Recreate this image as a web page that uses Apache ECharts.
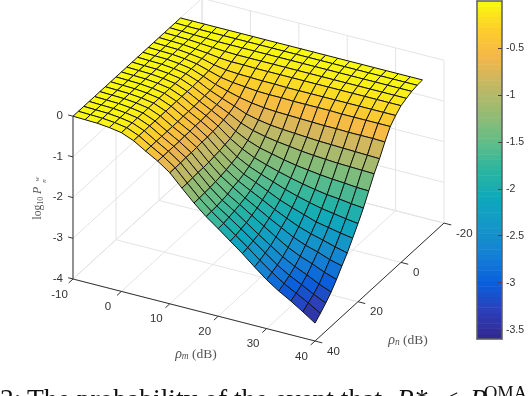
<!DOCTYPE html>
<html><head><meta charset="utf-8">
<style>html,body{margin:0;padding:0;background:#fff}#c{width:528px;height:396px}</style>
<script src="https://cdn.jsdelivr.net/npm/echarts@6/dist/echarts.min.js"></script>
</head><body><div id="c"></div>
<script>
const rhoM=[-10,-7.5,-5,-2.5,0,2.5,5,7.5,10,12.5,15,17.5,20,22.5,25,27.5,30,32.5,35,37.5,40];
const rhoN=[-10,-7.5,-5,-2.5,0,2.5,5,7.5,10,12.5,15,17.5,20,22.5,25,27.5,30,32.5,35,37.5,40];
// log10 P, one row per rhoN, one column per rhoM
const zRows=[
[0,0,0,0,0,0,0,0,0,0,0,0,0,0,0,0,0,0,0,0,0],
[0,-.01,-.01,-.01,-.01,-.01,-.01,-.01,-.01,-.01,-.01,-.01,-.01,-.01,-.01,-.01,-.01,-.01,-.01,-.01,-.01],
[0,-.01,-.02,-.03,-.04,-.04,-.04,-.04,-.04,-.04,-.04,-.04,-.04,-.04,-.04,-.04,-.04,-.04,-.04,-.04,-.04],
[0,-.01,-.02,-.04,-.06,-.08,-.09,-.09,-.09,-.09,-.09,-.09,-.09,-.09,-.09,-.09,-.09,-.09,-.09,-.09,-.09],
[0,-.01,-.02,-.05,-.08,-.12,-.14,-.14,-.15,-.15,-.15,-.15,-.15,-.15,-.15,-.15,-.15,-.15,-.15,-.15,-.15],
[0,-.01,-.02,-.05,-.09,-.17,-.22,-.24,-.25,-.26,-.26,-.27,-.27,-.27,-.27,-.27,-.27,-.27,-.27,-.27,-.27],
[0,-.01,-.02,-.05,-.10,-.19,-.28,-.33,-.36,-.39,-.40,-.40,-.41,-.41,-.41,-.41,-.42,-.42,-.42,-.42,-.42],
[0,-.01,-.02,-.05,-.10,-.21,-.33,-.42,-.50,-.56,-.60,-.62,-.63,-.64,-.65,-.66,-.66,-.67,-.67,-.67,-.68],
[0,-.01,-.02,-.05,-.10,-.21,-.36,-.48,-.59,-.71,-.78,-.83,-.86,-.88,-.90,-.92,-.93,-.94,-.95,-.96,-.97],
[0,-.01,-.02,-.05,-.10,-.22,-.37,-.51,-.65,-.81,-.92,-.99,-1.04,-1.08,-1.12,-1.15,-1.17,-1.19,-1.20,-1.21,-1.22],
[0,-.01,-.02,-.05,-.10,-.22,-.38,-.53,-.69,-.89,-1.04,-1.15,-1.22,-1.29,-1.35,-1.39,-1.43,-1.46,-1.48,-1.51,-1.52],
[0,-.01,-.02,-.05,-.10,-.22,-.39,-.54,-.72,-.95,-1.13,-1.27,-1.37,-1.46,-1.54,-1.61,-1.67,-1.72,-1.75,-1.79,-1.82],
[0,-.01,-.02,-.05,-.10,-.22,-.39,-.55,-.73,-.98,-1.20,-1.36,-1.48,-1.59,-1.70,-1.79,-1.87,-1.94,-1.99,-2.04,-2.08],
[0,-.01,-.02,-.05,-.10,-.22,-.39,-.55,-.75,-1.01,-1.24,-1.43,-1.56,-1.70,-1.84,-1.95,-2.05,-2.15,-2.21,-2.27,-2.32],
[0,-.01,-.02,-.05,-.10,-.22,-.40,-.56,-.75,-1.03,-1.28,-1.48,-1.64,-1.79,-1.95,-2.09,-2.22,-2.32,-2.40,-2.49,-2.56],
[0,-.01,-.02,-.05,-.10,-.22,-.40,-.56,-.76,-1.05,-1.31,-1.51,-1.70,-1.87,-2.04,-2.20,-2.36,-2.48,-2.57,-2.68,-2.76],
[0,-.01,-.02,-.05,-.10,-.22,-.40,-.57,-.77,-1.06,-1.33,-1.56,-1.74,-1.93,-2.12,-2.31,-2.49,-2.63,-2.74,-2.87,-2.97],
[0,-.01,-.02,-.05,-.10,-.22,-.40,-.57,-.77,-1.06,-1.35,-1.59,-1.78,-1.99,-2.20,-2.40,-2.60,-2.76,-2.89,-3.04,-3.16],
[0,-.01,-.02,-.05,-.10,-.22,-.40,-.57,-.78,-1.07,-1.36,-1.61,-1.81,-2.02,-2.24,-2.46,-2.68,-2.86,-3.01,-3.17,-3.31],
[0,-.01,-.02,-.05,-.10,-.22,-.40,-.57,-.78,-1.08,-1.37,-1.62,-1.84,-2.06,-2.28,-2.52,-2.74,-2.94,-3.10,-3.26,-3.44],
[0,-.01,-.02,-.05,-.10,-.22,-.40,-.57,-.78,-1.08,-1.37,-1.63,-1.85,-2.08,-2.31,-2.56,-2.80,-3.00,-3.17,-3.36,-3.56]
];
const xTicks=[-10,0,10,20,30,40];
const yTicks=[-20,0,20,40];
const zTicks=[-4,-3,-2,-1,0];
const cbarTicks=[-3.5,-3,-2.5,-2,-1.5,-1,-0.5];
const cbarColors=['#33288f','#2c3fb8','#0a5fdc','#1580d4','#1597c8','#0fa8bc','#2bb5a0','#62bd88','#95bb72','#c2b865','#f4b64a','#fdce2c','#f9fb0e'];
const cMin=-3.6,cMax=0,cSteps=64;

// Oblique view of the 3-D box onto the drawing plane
const proj=(x,y,z)=>[73+4.84*(x+10)+2.15*(40-y),279+1.24*(x+10)-1.965*(40-y)-40.7*(z+4)];

const cells=[];
for(let j=0;j<rhoN.length-1;j++)for(let i=0;i<rhoM.length-1;i++){
  cells.push([i,j,(zRows[j][i]+zRows[j][i+1]+zRows[j+1][i]+zRows[j+1][i+1])/4]);
}
const grids=[];
zTicks.forEach(z=>{grids.push([-10,40,z,-10,-20,z]);grids.push([-10,-20,z,40,-20,z]);});
xTicks.forEach(x=>{grids.push([x,-20,-4,x,40,-4]);grids.push([x,-20,-4,x,-20,0]);});
yTicks.forEach(y=>{grids.push([-10,y,-4,40,y,-4]);grids.push([-10,y,-4,-10,y,0]);});
const axes=[[-10,40,-4,40,40,-4],[40,40,-4,40,-20,-4],[-10,40,-4,-10,40,0]];
xTicks.forEach(x=>axes.push([x,40,-4,x,42,-4]));
yTicks.forEach(y=>axes.push([40,y,-4,41.5,y,-4]));
zTicks.forEach(z=>axes.push([-10,40,z,-11,40,z]));

const seg=(data,color,w)=>({type:'custom',xAxisIndex:0,yAxisIndex:0,data,clip:false,silent:true,animation:false,
  renderItem:(p,api)=>{
    const a=api.coord(proj(api.value(0),api.value(1),api.value(2)));
    const b=api.coord(proj(api.value(3),api.value(4),api.value(5)));
    return {type:'line',shape:{x1:a[0],y1:a[1],x2:b[0],y2:b[1]},style:{stroke:color,lineWidth:w}};
  }});
const labelFont='11.5px "Liberation Sans"';
const labels=(data,dx,dy,align)=>({type:'custom',xAxisIndex:0,yAxisIndex:0,data,clip:false,silent:true,animation:false,
  renderItem:(p,api)=>{
    const a=api.coord(proj(api.value(0),api.value(1),api.value(2)));
    return {type:'text',style:{text:String(data[p.dataIndex][3]),x:a[0]+dx,y:a[1]+dy,align,verticalAlign:'middle',font:labelFont,fill:'#333'}};
  }});

const serif='"Liberation Serif"';
const tRich=(n,i,s)=>({
  n:{fontFamily:'Liberation Serif',fontSize:n,color:'#555'},
  i:{fontFamily:'Liberation Serif',fontStyle:'italic',fontSize:i,color:'#555'},
  s:{fontFamily:'Liberation Serif',fontStyle:'italic',fontSize:s,color:'#555',padding:[5,0,0,0]},
  r:{fontFamily:'Liberation Serif',fontSize:s,color:'#555',padding:[5,0,0,0]}
});
const tStyle=(text,n,i,s)=>({text,fill:'#555',font:n+'px '+serif,rich:tRich(n,i,s),align:'center',verticalAlign:'middle'});
const capFont='27.5px '+serif;
const capItal='italic 27.5px '+serif;

const chart=echarts.init(document.getElementById('c'),null,{renderer:'canvas'});
chart.setOption({
  animation:false,
  backgroundColor:'#fff',
  grid:[
    {left:0,top:0,width:528,height:396,show:false},
    {left:477,top:1,width:25,height:338,show:false}
  ],
  xAxis:[
    {gridIndex:0,type:'value',min:0,max:528,show:false},
    {gridIndex:1,type:'value',min:0,max:1,position:'bottom',z:5,axisLine:{show:true,onZero:false,lineStyle:{color:'#5e5e5e',width:1.5}},axisTick:{show:false},axisLabel:{show:false},splitLine:{show:false}},
    {gridIndex:1,type:'value',min:0,max:1,position:'top',z:5,axisLine:{show:true,onZero:false,lineStyle:{color:'#5e5e5e',width:1.5}},axisTick:{show:false},axisLabel:{show:false},splitLine:{show:false}}
  ],
  yAxis:[
    {gridIndex:0,type:'value',min:0,max:396,inverse:true,show:false},
    {gridIndex:1,type:'value',min:cMin,max:cMax,position:'right',z:5,
      axisLine:{show:true,onZero:false,lineStyle:{color:'#5e5e5e',width:1.5}},
      axisTick:{show:true,inside:true,length:4,lineStyle:{color:'#444',width:1},customValues:cbarTicks},
      axisLabel:{show:true,margin:4,color:'#333',fontFamily:'Liberation Sans',fontSize:10.5,customValues:cbarTicks,formatter:v=>String(v)},
      splitLine:{show:false}},
    {gridIndex:1,type:'value',min:cMin,max:cMax,position:'left',z:5,
      axisLine:{show:true,onZero:false,lineStyle:{color:'#5e5e5e',width:1.5}},axisTick:{show:false},axisLabel:{show:false},splitLine:{show:false}}
  ],
  visualMap:[{type:'continuous',show:false,min:cMin,max:cMax,dimension:2,seriesIndex:[1,6],inRange:{color:cbarColors}}],
  series:[
    seg(grids,'#e4e4e4',1),
    {type:'custom',xAxisIndex:0,yAxisIndex:0,data:cells,clip:false,silent:true,animation:false,
      renderItem:(p,api)=>{
        const i=api.value(0),j=api.value(1);
        const pts=[[i,j],[i+1,j],[i+1,j+1],[i,j+1]].map(c=>api.coord(proj(rhoM[c[0]],rhoN[c[1]],zRows[c[1]][c[0]])));
        return {type:'polygon',shape:{points:pts},style:{fill:api.visual('color'),stroke:'#141414',lineWidth:1}};
      }},
    seg(axes,'#333',1),
    labels(xTicks.map(v=>[v,40,-4,v]),-13.5,15.5,'center'),
    labels(yTicks.map(v=>[40,v,-4,v]),12,10.5,'left'),
    labels(zTicks.map(v=>[-10,40,v,v]),-10,-0.5,'right'),
    {type:'custom',xAxisIndex:1,yAxisIndex:1,clip:true,silent:true,animation:false,
      data:Array.from({length:cSteps},(_,k)=>{const lo=cMin+(cMax-cMin)*k/cSteps,hi=cMin+(cMax-cMin)*(k+1)/cSteps;return [lo,hi,(lo+hi)/2];}),
      renderItem:(p,api)=>{
        const a=api.coord([0,api.value(1)]),b=api.coord([1,api.value(0)]);
        return {type:'rect',shape:{x:a[0],y:a[1],width:b[0]-a[0],height:b[1]-a[1]+0.5},style:{fill:api.visual('color')}};
      }}
  ],
  graphic:[
    {type:'text',x:196,y:354,style:tStyle('{i|ρ}{s|m} {n|(dB)}',13.5,14,9.5)},
    {type:'text',x:408,y:340,style:tStyle('{i|ρ}{s|n} {n|(dB)}',13.5,14,9.5)},
    {type:'text',x:38,y:203,rotation:Math.PI/2,style:tStyle('{n|log}{r|10} {i|P}',11.5,12,8)},
    {type:'text',x:37,y:179,rotation:Math.PI/2,style:{text:'w',font:'italic 7px '+serif,fill:'#555',align:'center',verticalAlign:'middle'}},
    {type:'text',x:44,y:181,rotation:Math.PI/2,style:{text:'n',font:'italic 7px '+serif,fill:'#555',align:'center',verticalAlign:'middle'}},
    {type:'text',x:0,y:387,style:{text:'3:',font:capFont,fill:'#111'}},
    {type:'text',x:27,y:387,style:{text:'The probability of the event that',font:capFont,fill:'#111'}},
    {type:'text',x:397,y:387,style:{text:'R*',font:capItal,fill:'#111'}},
    {type:'text',x:443,y:387,style:{text:'<',font:capFont,fill:'#111'}},
    {type:'text',x:470,y:387,style:{text:'R',font:capItal,fill:'#111'}},
    {type:'text',x:484,y:385,style:{text:'OMA',font:'18.5px '+serif,fill:'#111'}}
  ]
});
</script></body></html>
